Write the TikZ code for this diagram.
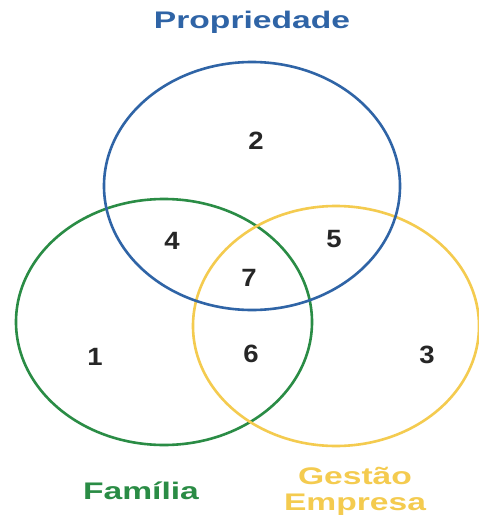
\documentclass[tikz,border=0pt]{standalone}
\usepackage{fontspec}
\setmainfont{Liberation Sans}
\definecolor{cblue}{HTML}{2F64A6}
\definecolor{cgreen}{HTML}{2A8C45}
\definecolor{cyellow}{HTML}{F4CB4F}
\tikzset{
  ring/.style={line width=2.6pt},
  lbl/.style={font=\bfseries\fontsize{24}{28}\selectfont, xscale=1.4, inner sep=0pt, align=center},
  num/.style={font=\bfseries\fontsize{25}{28}\selectfont, xscale=1.1, text=black!85, inner sep=0pt}
}
\begin{document}
\begin{tikzpicture}[x=1pt,y=-1pt]
\useasboundingbox (0,0) rectangle (479,525);
\fill[white] (0,0) rectangle (479,525);
\draw[ring,cgreen] (164,322) ellipse [x radius=148, y radius=123];
\draw[ring,cyellow] (336,326) ellipse [x radius=143, y radius=120];
\draw[ring,cblue] (252,186) ellipse [x radius=148, y radius=124];
\node[lbl,text=cblue] (prop) at (252,22) {Propriedade};
\node[lbl,text=cgreen] (fam) at (141,491) {Família};
\node[lbl,text=cyellow] (gest) at (355,491) {Gestão\\[-2pt]Empresa};
\node[num] (n2) at (256,141) {2};
\node[num] (n4) at (172,241) {4};
\node[num] (n5) at (334,239) {5};
\node[num] (n7) at (249,278) {7};
\node[num] (n1) at (95,357) {1};
\node[num] (n6) at (251,354) {6};
\node[num] (n3) at (427,355) {3};
\end{tikzpicture}
\end{document}
